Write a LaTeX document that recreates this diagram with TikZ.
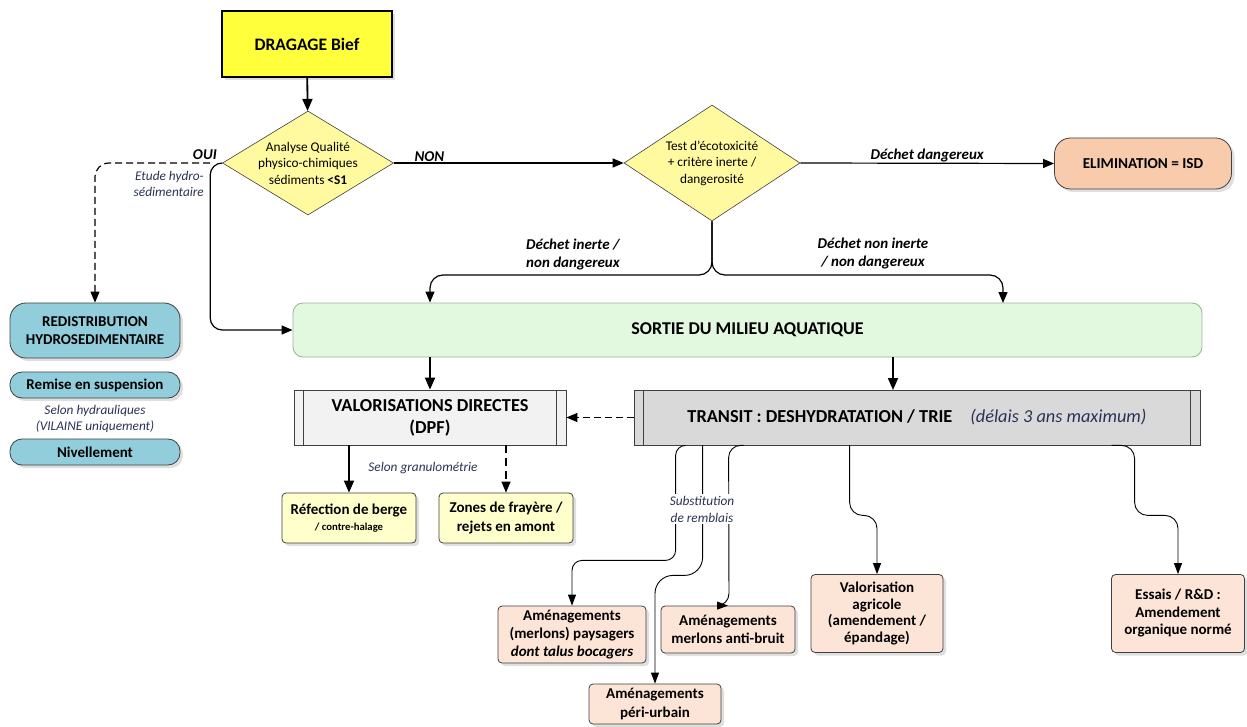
\documentclass[tikz,border=0pt]{standalone}
\usepackage{fontspec}
\setmainfont{Carlito}
\usetikzlibrary{shapes.geometric,arrows.meta,shadows,calc}
\definecolor{ybright}{HTML}{FFFF3C}
\definecolor{ypale}{HTML}{FFF9A0}
\definecolor{salmon}{HTML}{F8CBAD}
\definecolor{teal}{HTML}{92CDDC}
\definecolor{mint}{HTML}{E2F8DF}
\definecolor{mintline}{HTML}{9DB89A}
\definecolor{procA}{HTML}{F2F2F2}
\definecolor{procB}{HTML}{D9D9D9}
\definecolor{lyel}{HTML}{FFFFCC}
\definecolor{peach}{HTML}{FCE4D6}
\definecolor{navy}{HTML}{2A3356}
\definecolor{edge}{HTML}{404040}
\begin{document}
\begin{tikzpicture}[x=1pt,y=-1pt,
  shad/.style={drop shadow={shadow xshift=3pt,shadow yshift=-3pt,opacity=0.35,fill=black!35}},
  ybox/.style={draw=black,line width=1.2pt,fill=ybright,shad,font=\fontsize{17.5}{20}\selectfont\bfseries},
  diam/.style={diamond,draw=edge,line width=0.6pt,fill=ypale,inner sep=0pt},
  dtext/.style={inner sep=0pt,align=center,font=\fontsize{13.3}{16.5}\selectfont},
  elimbox/.style={draw=edge,line width=0.8pt,fill=salmon,rounded corners=16pt,shad,font=\fontsize{15.2}{18}\selectfont\bfseries},
  sortiebox/.style={draw=mintline,line width=0.9pt,fill=mint,rounded corners=10pt,font=\fontsize{18}{20}\selectfont\bfseries},
  bluebox/.style={draw=edge,line width=0.8pt,fill=teal,rounded corners=16pt,shad,align=center,font=\fontsize{15}{18}\selectfont\bfseries},
  bluepill/.style={draw=edge,line width=0.8pt,fill=teal,rounded corners=12pt,shad,font=\fontsize{15}{18}\selectfont\bfseries},
  proc/.style={draw=edge,line width=0.8pt,align=center,font=\fontsize{18.3}{22}\selectfont\bfseries},
  ylbox/.style={draw=edge,line width=0.8pt,fill=lyel,rounded corners=4pt,shad,align=center,font=\fontsize{15}{19}\selectfont\bfseries},
  pbox/.style={draw=edge,line width=0.8pt,fill=peach,rounded corners=4pt,shad,align=center,font=\fontsize{15}{18.3}\selectfont\bfseries},
  lbl/.style={inner sep=1pt,font=\fontsize{15}{18}\selectfont\bfseries\itshape},
  lblit/.style={inner sep=1pt,text=navy,font=\fontsize{13.3}{16.3}\selectfont\itshape},
  arr/.style={line width=1.2pt,-{Triangle[length=11pt,width=9pt]}},
  tharr/.style={line width=1.8pt,-{Triangle[length=12pt,width=10pt]}},
  thin/.style={line width=0.9pt,-{Triangle[length=11pt,width=8pt]}}
]
\useasboundingbox (0,0) rectangle (1247,727);
\fill[white] (0,0) rectangle (1247,727);

% nodes
\node[ybox,minimum width=170,minimum height=66] (drag) at (307,44) {DRAGAGE Bief};
\node[diam,minimum width=171,minimum height=104] (d1) at (308,163) {};
\node[dtext] (d1t) at (d1.center) {Analyse Qualité\\physico-chimiques\\sédiments {\bfseries <S1}};
\node[diam,minimum width=176,minimum height=116] (d2) at (712,163) {};
\node[dtext] (d2t) at (d2.center) {Test d’écotoxicité\\+ critère inerte /\\dangerosité};
\node[elimbox,minimum width=177,minimum height=51] (elim) at (1143,163.5) {ELIMINATION = ISD};
\node[sortiebox,minimum width=909,minimum height=54] (sortie) at (747.5,330) {SORTIE DU MILIEU AQUATIQUE};
\node[bluebox,minimum width=170,minimum height=55] (redis) at (95,330.5) {REDISTRIBUTION\\HYDROSEDIMENTAIRE};
\node[bluepill,minimum width=170,minimum height=26] (remise) at (95,385) {Remise en suspension};
\node[lblit,align=center] (selonh) at (95,419) {Selon hydrauliques\\(VILAINE uniquement)};
\node[bluepill,minimum width=170,minimum height=26] (nivel) at (95,452) {Nivellement};
\node[proc,fill=procA,minimum width=272,minimum height=55] (valdir) at (430,417.5) {VALORISATIONS DIRECTES\\(DPF)};
\node[proc,fill=procB,minimum width=566,minimum height=55] (transit) at (917,417.5) {TRANSIT : DESHYDRATATION / TRIE\hspace{18pt}{\mdseries\itshape\color{navy}(délais 3 ans maximum)}};
\foreach \n in {valdir,transit}{
  \draw[edge,line width=0.8pt] ([xshift=10pt]\n.north west) -- ([xshift=10pt]\n.south west);
  \draw[edge,line width=0.8pt] ([xshift=-10pt]\n.north east) -- ([xshift=-10pt]\n.south east);
}
\node[ylbox,minimum width=134,minimum height=50] (refec) at (349,518) {Réfection de berge\\[-3pt]{\fontsize{10.7}{12}\selectfont / contre-halage}};
\node[ylbox,minimum width=134,minimum height=50] (zones) at (506,518) {Zones de frayère /\\rejets en amont};
\node[pbox,minimum width=148,minimum height=57] (pays) at (572,634.5) {Aménagements\\(merlons) paysagers\\{\itshape dont talus bocagers}};
\node[pbox,minimum width=134,minimum height=47] (anti) at (728,629.5) {Aménagements\\merlons anti-bruit};
\node[pbox,minimum width=132,minimum height=40] (peri) at (655,704) {Aménagements\\péri-urbain};
\node[pbox,minimum width=132,minimum height=78,font=\fontsize{15}{16.5}\selectfont\bfseries] (agri) at (877,613.5) {Valorisation\\agricole\\(amendement /\\épandage)};
\node[pbox,minimum width=133,minimum height=78,font=\fontsize{15}{17.5}\selectfont\bfseries] (essais) at (1178,613.5) {Essais / R\&D :\\Amendement\\organique normé};

% connectors top
\draw[tharr] (drag) -- (d1);
\draw[arr] (d1.east) -- node[lbl,above,pos=0.155] (non) {NON} (d2.west);
\draw[arr] (d2.east) -- node[lbl,above] (ddang) {Déchet dangereux} (elim.west);
\node[lbl,anchor=south east] (oui) at (218,161) {OUI};
\draw[arr,rounded corners=12pt] (d1.west) -- ++(-12,0) |- (sortie.west);
\draw[arr,dashed,dash pattern=on 7pt off 4pt,rounded corners=14pt] ([xshift=-12pt]d1.west) -| (redis.north);
\node[lblit,align=right,anchor=north east] (etude) at (205,170) {Etude hydro-\\sédimentaire};

\coordinate (split) at (712,275);
\coordinate (rdrop) at (1003,303);
\draw[arr,rounded corners=13pt] (d2.south) |- (valdir.north |- split) -- (valdir.north |- sortie.north);
\draw[arr,rounded corners=13pt] (d2.south) |- (rdrop |- split) -- (rdrop);
\node[lbl,align=left,anchor=west] (dinerte) at (525,255) {Déchet inerte /\\non dangereux};
\node[lbl,align=center] (dninerte) at (873,254) {Déchet non inerte\\/ non dangereux};

% sortie to process boxes
\coordinate (tdrop) at (893,390);
\draw[tharr] (valdir.north |- sortie.south) -- (valdir.north);
\draw[tharr] (tdrop |- sortie.south) -- (tdrop);
\draw[arr,dashed,dash pattern=on 7pt off 4pt] (transit.west) -- (valdir.east);

% valdir outputs
\draw[tharr] (refec.north |- valdir.south) -- (refec.north);
\draw[arr,dashed,dash pattern=on 8pt off 5pt] (zones.north |- valdir.south) -- (zones.north);
\node[lblit] (granu) at (423,468) {Selon granulométrie};

% transit outputs
\draw[thin,rounded corners=10pt] ([xshift=51pt]transit.south west) -- ++(-9,0) -- ++(0,115) -| (pays.north);
\draw[thin,rounded corners=18pt] ([xshift=69pt]transit.south west) -- ++(0,130) -| (peri.north);
\draw[thin,rounded corners=12pt] ([xshift=110pt]transit.south west) -- ++(-15,0) -- (anti.north -| 729,0) -- (anti.north);
\draw[thin,rounded corners=13pt] ([xshift=216pt]transit.south west) -- ++(0,70) -| (agri.north);
\draw[thin,rounded corners=13pt] ([xshift=478pt]transit.south west) -- ++(23,0) -- ++(0,70) -| (essais.north);
\node[lblit,fill=white,align=center,inner sep=1.5pt,font=\fontsize{13.3}{17}\selectfont\itshape] (subst) at (702,509) {Substitution\\de remblais};
\end{tikzpicture}
\end{document}
